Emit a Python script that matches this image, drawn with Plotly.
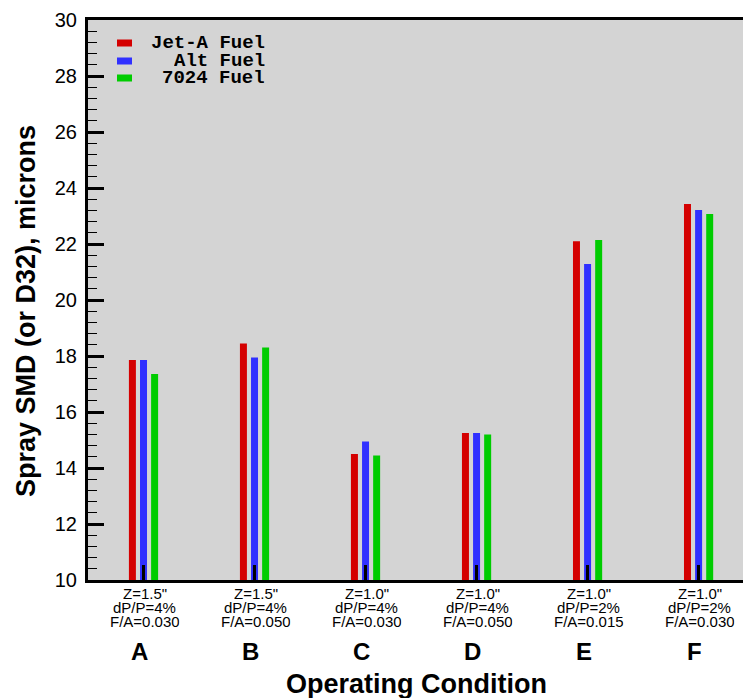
import plotly.graph_objects as go

# ---- data ----
conditions = ["A", "B", "C", "D", "E", "F"]
z_labels = ['Z=1.5"', 'Z=1.5"', 'Z=1.0"', 'Z=1.0"', 'Z=1.0"', 'Z=1.0"']
dp_labels = ["dP/P=4%", "dP/P=4%", "dP/P=4%", "dP/P=4%", "dP/P=2%", "dP/P=2%"]
fa_labels = ["F/A=0.030", "F/A=0.050", "F/A=0.030", "F/A=0.050", "F/A=0.015", "F/A=0.030"]
series_names = ["Jet-A Fuel", "Alt Fuel", "7024 Fuel"]
jet_a = [17.86, 18.45, 14.50, 15.25, 22.10, 23.43]
alt = [17.86, 17.95, 14.95, 15.25, 21.29, 23.21]
fuel_7024 = [17.36, 18.30, 14.45, 15.20, 22.14, 23.07]
y_ticks = [10, 12, 14, 16, 18, 20, 22, 24, 26, 28, 30]

colors = ["#d40000", "#3030ff", "#00cc00"]
series = [jet_a, alt, fuel_7024]

# layout geometry (pixels)
W, H = 743, 698
ML, MR, MT, MB = 88, 0, 20, 118
PW, PH = W - ML - MR, H - MT - MB


def px(x):
    return (x - ML) / PW


def py(y):
    return (H - MB - y) / PH


bar_w = 0.063
offsets = [-0.1 - bar_w / 2, -bar_w / 2, 0.1 - bar_w / 2]

fig = go.Figure()
for name, vals, col, off in zip(series_names, series, colors, offsets):
    fig.add_trace(go.Bar(
        x=conditions, y=vals, name=name, width=bar_w, offset=off,
        marker=dict(color=col, line=dict(width=0)), showlegend=False,
    ))

annotations = []
for i, c in enumerate(conditions):
    for txt, yy, sz, bold, xs, hh in [(z_labels[i], 593, 15, False, 1, 13), (dp_labels[i], 607, 15, False, 1, 13),
                                      (fa_labels[i], 621, 15, False, 1, 13), (c, 651, 24, True, -4, 28)]:
        annotations.append(dict(
            x=c, y=py(yy), xref="x", yref="paper", text=f"<b>{txt}</b>" if bold else txt,
            showarrow=False, xanchor="center", yanchor="middle", xshift=xs,
            height=hh, valign="middle", borderpad=0,
            font=dict(family="Liberation Sans, Arial", size=sz, color="black"),
        ))

annotations.append(dict(
    x=px(416.5), y=py(684), xref="paper", yref="paper", text="<b>Operating Condition</b>",
    showarrow=False, xanchor="center", yanchor="middle",
    font=dict(family="Liberation Sans, Arial", size=27, color="black"),
))
annotations.append(dict(
    x=px(26), y=py(311), xref="paper", yref="paper", text="<b>Spray SMD (or D32), microns</b>",
    showarrow=False, xanchor="center", yanchor="middle", textangle=-90,
    font=dict(family="Liberation Sans, Arial", size=27, color="black"),
))

shapes = []
leg_rows = [43, 61, 78]
for name, col, ry in zip(series_names, colors, leg_rows):
    shapes.append(dict(type="rect", xref="paper", yref="paper",
                       x0=px(117), x1=px(132), y0=py(ry - 3.5), y1=py(ry + 3.5),
                       fillcolor=col, line=dict(width=0)))
    annotations.append(dict(
        x=px(266), y=py(ry), xref="paper", yref="paper", text=f"<b>{name}</b>",
        showarrow=False, xanchor="right", yanchor="middle",
        height=16, valign="middle", borderpad=0,
        font=dict(family="Liberation Mono, Courier New", size=19, color="black"),
    ))

fig.update_layout(
    width=W, height=H,
    margin=dict(l=ML, r=MR, t=MT, b=MB, pad=0),
    paper_bgcolor="white", plot_bgcolor="#d4d4d4",
    barmode="overlay",
    annotations=annotations, shapes=shapes,
    xaxis=dict(
        range=[-0.5, 5.4], showgrid=False, zeroline=False,
        showline=True, linecolor="black", linewidth=3, mirror=True,
        ticks="inside", ticklen=15, tickwidth=3, tickcolor="black",
        showticklabels=False,
    ),
    yaxis=dict(
        range=[10, 30], tickvals=y_ticks, showgrid=False, zeroline=False,
        showline=True, linecolor="black", linewidth=3,
        ticks="inside", ticklen=16, tickwidth=2.5, tickcolor="black",
        tickfont=dict(family="Liberation Sans, Arial", size=20, color="black"),
        ticklabelstandoff=4,
        minor=dict(dtick=0.4, ticks="inside", ticklen=9, tickwidth=1, tickcolor="black"),
    ),
)

fig.write_html("out.html")
